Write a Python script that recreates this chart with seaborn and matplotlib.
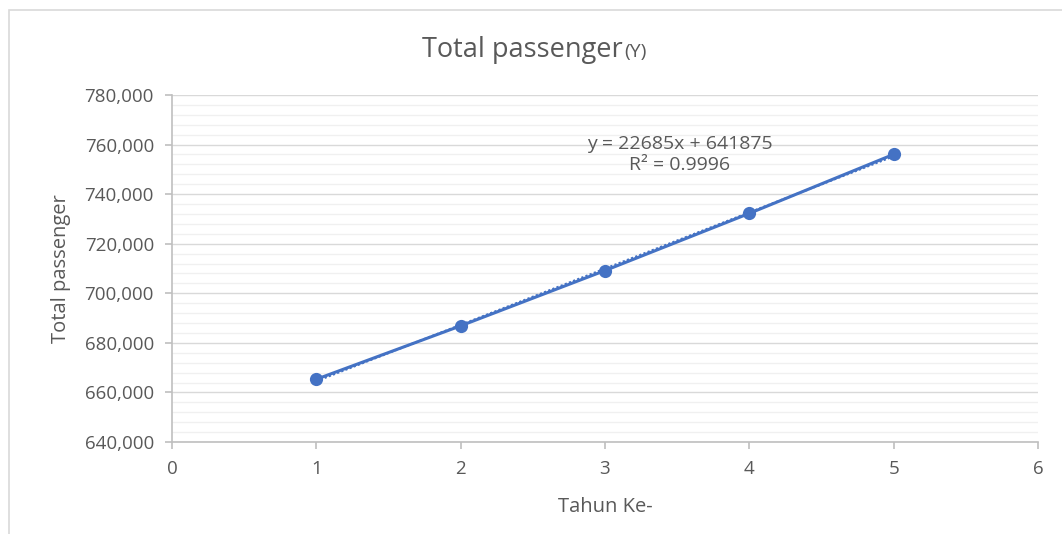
import numpy as np
import pandas as pd
import matplotlib
matplotlib.use("Agg")
import matplotlib.pyplot as plt
from matplotlib.patches import Rectangle
from matplotlib.ticker import MultipleLocator, FuncFormatter
import seaborn as sns

# Year index and total passengers per year
tahun = [1, 2, 3, 4, 5]
total_passenger = [665320, 686865, 709170, 732235, 756060]

x_ticks = [0, 1, 2, 3, 4, 5, 6]
y_ticks = [640000, 660000, 680000, 700000, 720000, 740000, 760000, 780000]

df = pd.DataFrame({"Tahun Ke-": tahun, "Total passenger": total_passenger})

sns.set_theme(style="white")
plt.rcParams["font.family"] = ["Open Sans", "DejaVu Sans"]

blue = "#4472C4"
text_gray = "#595959"
axis_gray = "#BFBFBF"

W, H = 1062, 534
fig = plt.figure(figsize=(W / 100, H / 100), dpi=100)
ax = fig.add_axes([172 / W, 1 - 442 / H, (1038 - 172) / W, (442 - 95) / H])

# outer chart-area border
fig.patches.append(Rectangle((9 / W, -0.05), 1.2, 1 - 10 / H + 0.05,
                             transform=fig.transFigure, fill=False,
                             edgecolor="#D9D9D9", linewidth=1.2))

# linear trendline (least squares) drawn dotted under the series
x = np.array(tahun, dtype=float)
y = np.array(total_passenger, dtype=float)
slope, intercept = np.polyfit(x, y, 1)
pred = slope * x + intercept
r2 = 1 - np.sum((y - pred) ** 2) / np.sum((y - y.mean()) ** 2)

sns.regplot(data=df, x="Tahun Ke-", y="Total passenger", ax=ax, ci=None,
            scatter=False, truncate=True,
            line_kws=dict(color=blue, linestyle=(0, (1, 1)), linewidth=1.6, zorder=3))

sns.lineplot(data=df, x="Tahun Ke-", y="Total passenger", ax=ax, color=blue,
             linewidth=2.2, marker="o", markersize=9.5, markeredgewidth=0, zorder=4)

ax.set_xlim(0, 6)
ax.set_ylim(640000, 780000)
ax.set_xticks(x_ticks)
ax.set_yticks(y_ticks)
ax.yaxis.set_minor_locator(MultipleLocator(4000))
ax.yaxis.set_major_formatter(FuncFormatter(lambda v, p: f"{int(v):,}"))

ax.grid(True, which="major", axis="y", color="#D9D9D9", linewidth=1.0, zorder=0)
ax.grid(True, which="minor", axis="y", color="#F0F0F0", linewidth=1.0, zorder=0)
ax.grid(False, axis="x")
ax.set_axisbelow(True)

for side in ["top", "right"]:
    ax.spines[side].set_visible(False)
for side in ["left", "bottom"]:
    ax.spines[side].set_color(axis_gray)
    ax.spines[side].set_linewidth(1.2)

ax.tick_params(axis="both", which="major", direction="out", length=5, width=1.2,
               color=axis_gray, labelcolor=text_gray, labelsize=13.5, pad=8,
               left=True, bottom=True)
ax.tick_params(axis="y", which="minor", left=False)

ax.set_xlabel("Tahun Ke-", fontsize=14.5, color=text_gray, labelpad=14)
ax.set_ylabel("Total passenger", fontsize=14.5, color=text_gray, labelpad=10)

# chart title with smaller suffix
fig.text(623 / W, 1 - 50 / H, "Total passenger", ha="right", va="center",
         fontsize=19.5, color=text_gray)
fig.text(624 / W, 1 - 52 / H, "(Y)", ha="left", va="center",
         fontsize=14, color=text_gray)

# trendline equation
eq = f"y = {slope:.0f}x + {intercept:.0f}\nR² = {r2:.4f}"
ax.text(3.52, 756000, eq, ha="center", va="center", fontsize=14,
        color=text_gray, linespacing=1.25)

fig.savefig("out.png", dpi=100, facecolor="white")
